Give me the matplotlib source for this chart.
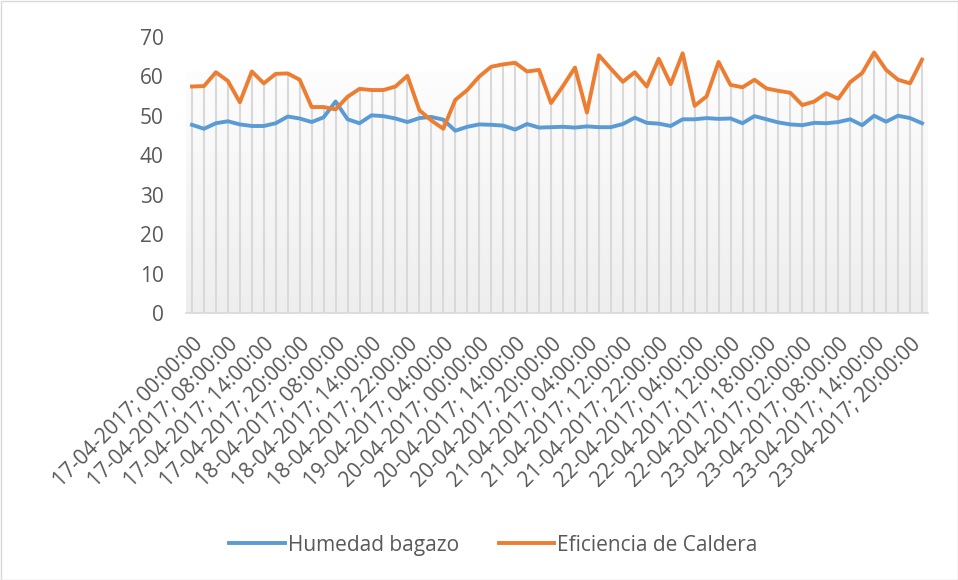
import numpy as np
import matplotlib
matplotlib.use('Agg')
import matplotlib.pyplot as plt
from matplotlib.patches import Rectangle

plt.rcParams['font.family'] = ['Open Sans', 'DejaVu Sans']

# valores (62 registros)
humedad = [47.7, 46.7, 48.1, 48.6, 47.8, 47.4, 47.4, 48.1, 49.8, 49.3,
           48.4, 49.6, 53.6, 49.1, 48.1, 50.1, 49.9, 49.3, 48.4, 49.4,
           49.7, 49.0, 46.2, 47.2, 47.8, 47.7, 47.5, 46.5, 47.9, 47.0,
           47.1, 47.2, 47.0, 47.3, 47.1, 47.1, 47.9, 49.5, 48.2, 48.0,
           47.4, 49.1, 49.1, 49.4, 49.2, 49.3, 48.1, 49.9, 49.1, 48.3,
           47.8, 47.6, 48.2, 48.1, 48.4, 49.1, 47.6, 50.0, 48.5, 50.0,
           49.4, 48.1]
eficiencia = [57.4, 57.5, 61.0, 58.8, 53.4, 61.2, 58.2, 60.6, 60.7, 59.1,
              52.2, 52.2, 51.6, 54.8, 56.8, 56.5, 56.5, 57.4, 60.1, 51.4,
              48.8, 46.7, 54.0, 56.5, 59.9, 62.4, 63.0, 63.4, 61.2, 61.6,
              53.2, 57.5, 62.2, 50.8, 65.3, 61.9, 58.6, 61.0, 57.4, 64.4,
              58.0, 65.8, 52.5, 54.9, 63.6, 57.8, 57.2, 59.1, 56.9, 56.3,
              55.8, 52.7, 53.6, 55.7, 54.3, 58.5, 60.8, 66.0, 61.6, 59.1,
              58.2, 64.2]
tick_labels = ['17-04-2017; 00:00:00', '17-04-2017; 08:00:00', '17-04-2017; 14:00:00',
               '17-04-2017; 20:00:00', '18-04-2017; 08:00:00', '18-04-2017; 14:00:00',
               '18-04-2017; 22:00:00', '19-04-2017; 04:00:00', '20-04-2017; 00:00:00',
               '20-04-2017; 14:00:00', '20-04-2017; 20:00:00', '21-04-2017; 04:00:00',
               '21-04-2017; 12:00:00', '21-04-2017; 22:00:00', '22-04-2017; 04:00:00',
               '22-04-2017; 12:00:00', '22-04-2017; 18:00:00', '23-04-2017; 02:00:00',
               '23-04-2017; 08:00:00', '23-04-2017; 14:00:00', '23-04-2017; 20:00:00']
label_step = 3

x = np.arange(len(humedad))
n = len(x)
gray_txt = '#595959'

fig = plt.figure(figsize=(9.58, 5.8), dpi=100)
ax = fig.add_axes([186 / 958, (580 - 313.3) / 580, 742 / 958, 276.6 / 580])

# fondo degradado del área de trazado
grad = np.linspace(0, 1, 100).reshape(-1, 1)
ax.imshow(grad, cmap=matplotlib.colors.LinearSegmentedColormap.from_list(
    'g', ['#fdfdfd', '#eeeeee']), aspect='auto',
    extent=(-0.5, n - 0.5, 0, 61), origin='upper', zorder=0)

# líneas de caída
tops = np.maximum(humedad, eficiencia)
ax.vlines(x, 0, tops, color='#d9d9d9', linewidth=1.5, zorder=1)

ax.plot(x, humedad, color='#5b9bd5', linewidth=2.8, label='Humedad bagazo',
        solid_joinstyle='round', zorder=3)
ax.plot(x, eficiencia, color='#ed7d31', linewidth=2.8, label='Eficiencia de Caldera',
        solid_joinstyle='round', zorder=3)

ax.set_xlim(-0.5, n - 0.5)
ax.set_ylim(0, 70)
ax.set_yticks(range(0, 71, 10))
ax.set_xticks(x[::label_step][:len(tick_labels)])
ax.set_xticklabels(tick_labels, rotation=45, ha='right', va='top',
                   rotation_mode='anchor', fontsize=15, color=gray_txt)
ax.tick_params(axis='x', length=0, pad=14.5)
ax.tick_params(axis='y', length=0, pad=16, labelsize=15, labelcolor=gray_txt)
for s in ['top', 'right', 'left']:
    ax.spines[s].set_visible(False)
ax.spines['bottom'].set_color('#d9d9d9')
ax.spines['bottom'].set_linewidth(1.2)
ax.set_facecolor('white')

fig.legend(loc='center', bbox_to_anchor=(0.515, 0.06), ncol=2, frameon=False,
           fontsize=15, handlelength=2.65, handletextpad=0.15, columnspacing=1.9,
           labelcolor=gray_txt)

fig.patches.append(Rectangle((0.5 / 958, 0.5 / 580), 957 / 958, 579 / 580,
                             transform=fig.transFigure, fill=False,
                             edgecolor='#d9d9d9', linewidth=1))

fig.savefig('out.png', dpi=100)
